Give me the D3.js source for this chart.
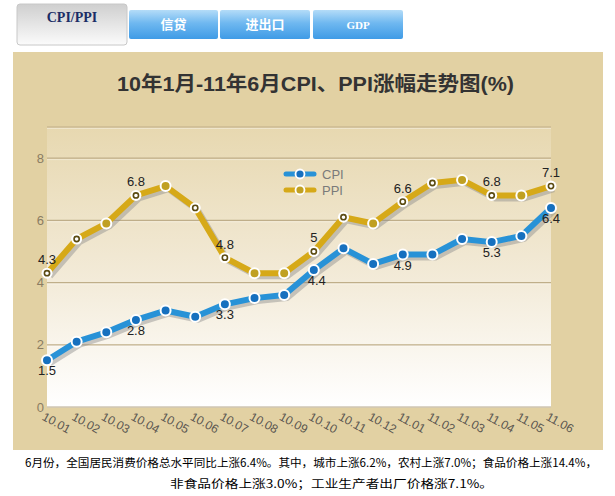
<!DOCTYPE html>
<html><head><meta charset="utf-8">
<script src="https://cdn.jsdelivr.net/npm/d3@7"></script>
<style>body{margin:0;background:#fff}svg{display:block}</style>
</head><body>
<script>
// ---- data ----
const categories = ["10.01","10.02","10.03","10.04","10.05","10.06","10.07","10.08","10.09","10.10","10.11","10.12","11.01","11.02","11.03","11.04","11.05","11.06"];
const cpi = [1.5,2.1,2.4,2.8,3.1,2.9,3.3,3.5,3.6,4.4,5.1,4.6,4.9,4.9,5.4,5.3,5.5,6.4];
const ppi = [4.3,5.4,5.9,6.8,7.1,6.4,4.8,4.3,4.3,5.0,6.1,5.9,6.6,7.2,7.3,6.8,6.8,7.1];
const yTicks = [0,2,4,6,8];
const seriesNames = ["CPI","PPI"];
const tabs = ["CPI/PPI","信贷","进出口","GDP"];
const title = "10年1月-11年6月CPI、PPI涨幅走势图(%)";
const notes = ["6月份，全国居民消费价格总水平同比上涨6.4%。其中，城市上涨6.2%，农村上涨7.0%；食品价格上涨14.4%，",
               "非食品价格上涨3.0%；工业生产者出厂价格涨7.1%。"];
const labeled = [0,3,6,9,12,15,17];
const ppiHollow = [0,1,3,5,6,9,10,12,13,15,17];

// ---- layout ----
const W = 615, H = 496;
const svg = d3.select("body").append("svg").attr("width", W).attr("height", H);
const defs = svg.append("defs");
const g1 = defs.append("linearGradient").attr("id","plotbg").attr("x1",0).attr("y1",0).attr("x2",0).attr("y2",1);
g1.append("stop").attr("offset","0%").attr("stop-color","#e7d8b0");
g1.append("stop").attr("offset","55%").attr("stop-color","#f3ebd9");
g1.append("stop").attr("offset","100%").attr("stop-color","#ffffff");
const g2 = defs.append("linearGradient").attr("id","tab1").attr("x1",0).attr("y1",0).attr("x2",0).attr("y2",1);
g2.append("stop").attr("offset","0%").attr("stop-color","#cfcfcf");
g2.append("stop").attr("offset","100%").attr("stop-color","#fbfbfb");
const g3 = defs.append("linearGradient").attr("id","tabb").attr("x1",0).attr("y1",0).attr("x2",0).attr("y2",1);
g3.append("stop").attr("offset","0%").attr("stop-color","#b4dcf8");
g3.append("stop").attr("offset","45%").attr("stop-color","#6fb8f0");
g3.append("stop").attr("offset","100%").attr("stop-color","#3f9be6");

// tabs
const tabBoxes = [{x:17,y:4,w:110,h:41},{x:129,y:10,w:89,h:29},{x:220,y:10,w:90,h:29},{x:313,y:10,w:90,h:29}];
tabs.forEach((t,i)=>{
  const b = tabBoxes[i];
  svg.append("rect").attr("x",b.x).attr("y",b.y).attr("width",b.w).attr("height",b.h)
    .attr("rx", i===0?3:2)
    .attr("fill", i===0?"url(#tab1)":"url(#tabb)")
    .attr("stroke", i===0?"#c8c8c8":"none");
  svg.append("text").attr("x",b.x+b.w/2).attr("y", i===0?22:29)
    .attr("text-anchor","middle")
    .attr("font-family", i===0||i===3 ? "'Liberation Serif', serif" : "'Noto Sans CJK SC', sans-serif")
    .attr("font-weight","bold")
    .attr("font-size", i===0?14:(i===3?11:13))
    .attr("fill", i===0?"#1b2d66":"#ffffff")
    .text(t);
});

// panel
svg.append("rect").attr("x",13).attr("y",52).attr("width",590).attr("height",398).attr("fill","#e2d1a3");

const x = d3.scalePoint().domain(categories).range([47,551]);
const y = d3.scaleLinear().domain([0,9]).range([407,127]);

svg.append("rect").attr("x",47).attr("y",y(9)).attr("width",551-47).attr("height",y(0)-y(9)).attr("fill","url(#plotbg)");

// title
svg.append("text").attr("x",117).attr("y",91)
  .attr("font-family","'Liberation Sans', Arial, 'Noto Sans CJK SC', sans-serif")
  .attr("font-weight","bold").attr("font-size",20).attr("fill","#333")
  .attr("textLength",397).attr("lengthAdjust","spacingAndGlyphs")
  .text(title);

// gridlines
const grid = svg.append("g");
[...yTicks.slice(1), 9].forEach(v=>{
  grid.append("line").attr("x1",47).attr("x2",551).attr("y1",y(v)).attr("y2",y(v))
    .attr("stroke","#bfae89").attr("stroke-width",1.2);
  grid.append("line").attr("x1",47).attr("x2",551).attr("y1",y(v)+1.5).attr("y2",y(v)+1.5)
    .attr("stroke","#ffffff").attr("stroke-opacity",0.35).attr("stroke-width",1);
});
grid.append("line").attr("x1",47).attr("x2",551).attr("y1",y(0)).attr("y2",y(0))
  .attr("stroke","#cfc6b4").attr("stroke-width",1.5);

// y axis
const yAxis = svg.append("g").attr("transform","translate(44,0)")
  .call(d3.axisLeft(y).tickValues(yTicks).tickSize(0).tickPadding(0));
yAxis.select(".domain").remove();
yAxis.selectAll("text").attr("font-family","'Liberation Sans', Arial, sans-serif").attr("font-size",13).attr("fill","#8a7c62");

// x axis
const xAxis = svg.append("g").attr("transform","translate(0,410)")
  .call(d3.axisBottom(x).tickSize(0).tickPadding(0));
xAxis.select(".domain").remove();
xAxis.selectAll("text")
  .attr("font-family","'Liberation Sans', Arial, sans-serif").attr("font-size",12).attr("fill","#5a5650")
  .attr("text-anchor","start").attr("dy","0.75em")
  .attr("transform","rotate(29)").attr("x",-1).attr("y",2);

// lines
const line = d3.line().x((d,i)=>x(categories[i])).y(d=>y(d));
const series = [{name:"CPI",vals:cpi,line:"#2892d7",dot:"#1670bf"},{name:"PPI",vals:ppi,line:"#d6a918",dot:"#c0a022"}];
series.forEach(s=>{
  svg.append("path").attr("d",line(s.vals)).attr("transform","translate(3,3)")
    .attr("fill","none").attr("stroke","#8c8c8c").attr("stroke-opacity",0.45).attr("stroke-width",6)
    .attr("stroke-linejoin","round");
});
series.forEach(s=>{
  svg.append("path").attr("d",line(s.vals))
    .attr("fill","none").attr("stroke",s.line).attr("stroke-width",6).attr("stroke-linejoin","round");
});
// markers
series.forEach((s,si)=>{
  s.vals.forEach((v,i)=>{
    const cx = x(categories[i]), cy = y(v);
    if (si===1 && ppiHollow.includes(i)) {
      svg.append("circle").attr("cx",cx).attr("cy",cy).attr("r",5.5).attr("fill","#fff");
      svg.append("circle").attr("cx",cx).attr("cy",cy).attr("r",2.6).attr("fill","#fff").attr("stroke","#5b4b12").attr("stroke-width",1.6);
    } else {
      svg.append("circle").attr("cx",cx).attr("cy",cy).attr("r",5).attr("fill",s.dot).attr("stroke","#fff").attr("stroke-width",2);
    }
  });
});
// data labels
const lab = svg.append("g").attr("font-family","'Liberation Sans', Arial, sans-serif").attr("font-size",13).attr("fill","#222").attr("text-anchor","middle");
labeled.forEach(i=>{
  lab.append("text").attr("x",x(categories[i])).attr("y",y(ppi[i])-9).text(d3.format("~g")(ppi[i]));
  lab.append("text").attr("x",x(categories[i])+(i===9?3:0)).attr("y",y(cpi[i])+15).text(d3.format("~g")(cpi[i]));
});

// legend
seriesNames.forEach((n,i)=>{
  const s = series[i];
  const ly = 174 + i*16;
  svg.append("line").attr("x1",286).attr("x2",295).attr("y1",ly).attr("y2",ly).attr("stroke",s.line).attr("stroke-width",5).attr("stroke-linecap","round");
  svg.append("line").attr("x1",305).attr("x2",314).attr("y1",ly).attr("y2",ly).attr("stroke",s.line).attr("stroke-width",5).attr("stroke-linecap","round");
  svg.append("circle").attr("cx",300).attr("cy",ly).attr("r",4.5).attr("fill",s.dot).attr("stroke","#fff").attr("stroke-width",1.8);
  svg.append("text").attr("x",322).attr("y",ly+4.5).attr("font-family","'Liberation Sans', Arial, sans-serif")
    .attr("font-size",13).attr("fill","#7a7a7a").text(n);
});

// notes
svg.append("text").attr("x",25).attr("y",467).attr("font-family","'Noto Sans CJK SC', sans-serif").attr("font-size",11.5).attr("fill","#000")
  .attr("textLength",572).attr("lengthAdjust","spacingAndGlyphs").text(notes[0]);
svg.append("text").attr("x",170).attr("y",488).attr("font-family","'Noto Sans CJK SC', sans-serif").attr("font-size",11.5).attr("fill","#000")
  .attr("textLength",323).attr("lengthAdjust","spacingAndGlyphs").text(notes[1]);
</script>
</body></html>
